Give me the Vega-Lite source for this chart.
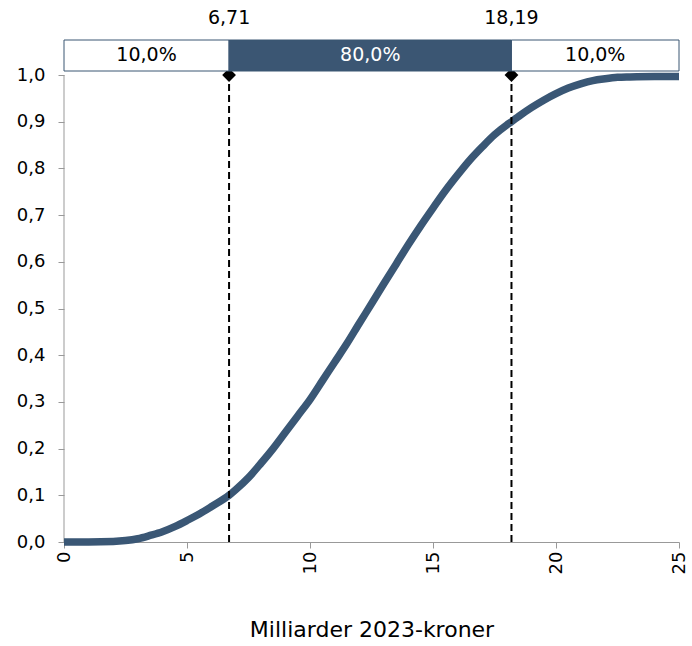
{
  "$schema": "https://vega.github.io/schema/vega-lite/v6.json",
  "autosize": {"type": "none"},
  "width": 615,
  "height": 502,
  "padding": {"left": 64, "top": 40, "right": 13, "bottom": 104},
  "config": {"font": "DejaVu Sans", "view": {"stroke": null}},
  "datasets": {
    "curve": [
      {"x": 0, "p": 0}, {"x": 1, "p": 0}, {"x": 2, "p": 0.001}, {"x": 2.5, "p": 0.003},
      {"x": 3, "p": 0.007}, {"x": 3.5, "p": 0.014}, {"x": 4, "p": 0.022}, {"x": 4.5, "p": 0.033},
      {"x": 5, "p": 0.046}, {"x": 5.5, "p": 0.06}, {"x": 6, "p": 0.076}, {"x": 6.71, "p": 0.1},
      {"x": 7, "p": 0.113}, {"x": 7.5, "p": 0.138}, {"x": 8, "p": 0.168}, {"x": 8.5, "p": 0.2},
      {"x": 9, "p": 0.235}, {"x": 9.5, "p": 0.27}, {"x": 10, "p": 0.305}, {"x": 10.5, "p": 0.345},
      {"x": 11, "p": 0.385}, {"x": 11.5, "p": 0.425}, {"x": 12, "p": 0.468}, {"x": 12.5, "p": 0.51},
      {"x": 13, "p": 0.553}, {"x": 13.5, "p": 0.595}, {"x": 14, "p": 0.637}, {"x": 14.5, "p": 0.677},
      {"x": 15, "p": 0.715}, {"x": 15.5, "p": 0.752}, {"x": 16, "p": 0.786}, {"x": 16.5, "p": 0.818},
      {"x": 17, "p": 0.846}, {"x": 17.5, "p": 0.872}, {"x": 18, "p": 0.893}, {"x": 18.19, "p": 0.9},
      {"x": 18.5, "p": 0.912}, {"x": 19, "p": 0.93}, {"x": 19.5, "p": 0.946}, {"x": 20, "p": 0.96},
      {"x": 20.5, "p": 0.972}, {"x": 21, "p": 0.981}, {"x": 21.5, "p": 0.988}, {"x": 22, "p": 0.992},
      {"x": 22.5, "p": 0.995}, {"x": 23, "p": 0.996}, {"x": 24, "p": 0.997}, {"x": 25, "p": 0.997}
    ],
    "band": [
      {"x": 0, "x2": 6.71, "share": "10,0%", "part": "low"},
      {"x": 6.71, "x2": 18.19, "share": "80,0%", "part": "mid"},
      {"x": 18.19, "x2": 25, "share": "10,0%", "part": "high"}
    ],
    "cuts": [
      {"x": 6.71, "label": "6,71"},
      {"x": 18.19, "label": "18,19"}
    ],
    "yaxis": [{"x": 0, "y": 0, "y2": 1}]
  },
  "layer": [
    {
      "data": {"name": "yaxis"},
      "mark": {"type": "rule", "color": "#999999", "strokeWidth": 1},
      "encoding": {
        "x": {"field": "x", "type": "quantitative", "scale": {"domain": [0, 25], "nice": false}},
        "y": {"field": "y", "type": "quantitative", "scale": {"domain": [0, 1.075], "nice": false}},
        "y2": {"field": "y2"}
      }
    },
    {
      "data": {"name": "curve"},
      "mark": {"type": "line", "color": "#3A5775", "strokeWidth": 7.5, "interpolate": "monotone"},
      "encoding": {
        "x": {
          "field": "x", "type": "quantitative", "title": "Milliarder 2023-kroner",
          "axis": {
            "values": [0, 5, 10, 15, 20, 25], "labelAngle": 270, "labelAlign": "right", "labelBaseline": "middle",
            "labelFontSize": 18, "labelColor": "#000000", "domainColor": "#999999", "tickColor": "#999999",
            "tickSize": 6, "labelPadding": 3, "grid": false, "titleFontSize": 22, "titleFontWeight": "normal",
            "titleColor": "#000000", "titlePadding": 46
          }
        },
        "y": {
          "field": "p", "type": "quantitative", "title": null,
          "axis": {
            "values": [0, 0.1, 0.2, 0.3, 0.4, 0.5, 0.6, 0.7, 0.8, 0.9, 1.0],
            "labelExpr": "replace(format(datum.value, '.1f'), '.', ',')",
            "labelFontSize": 18, "labelColor": "#000000", "domain": false, "tickColor": "#999999",
            "tickSize": 6, "labelPadding": 13, "grid": false
          }
        }
      }
    },
    {
      "data": {"name": "cuts"},
      "mark": {"type": "rule", "color": "#000000", "strokeWidth": 2, "strokeDash": [7, 4]},
      "encoding": {
        "x": {"field": "x", "type": "quantitative"},
        "y": {"datum": 0},
        "y2": {"datum": 1}
      }
    },
    {
      "data": {"name": "cuts"},
      "mark": {"type": "point", "shape": "diamond", "filled": true, "color": "#000000", "size": 190, "opacity": 1},
      "encoding": {
        "x": {"field": "x", "type": "quantitative"},
        "y": {"datum": 1.0}
      }
    },
    {
      "data": {"name": "band"},
      "mark": {"type": "rect", "stroke": "#3B5673", "strokeWidth": 1},
      "encoding": {
        "x": {"field": "x", "type": "quantitative"},
        "x2": {"field": "x2"},
        "y": {"datum": 1.0086},
        "y2": {"datum": 1.075},
        "fill": {"field": "part", "type": "nominal", "scale": {"domain": ["low", "mid", "high"], "range": ["#FFFFFF", "#3B5673", "#FFFFFF"]}, "legend": null}
      }
    },
    {
      "data": {"name": "band"},
      "transform": [{"calculate": "(datum.x + datum.x2) / 2", "as": "xm"}],
      "mark": {"type": "text", "fontSize": 19, "baseline": "middle", "align": "center"},
      "encoding": {
        "x": {"field": "xm", "type": "quantitative"},
        "y": {"datum": 1.042},
        "text": {"field": "share"},
        "color": {"field": "part", "type": "nominal", "scale": {"domain": ["low", "mid", "high"], "range": ["#000000", "#FFFFFF", "#000000"]}, "legend": null}
      }
    },
    {
      "data": {"name": "cuts"},
      "mark": {"type": "text", "fontSize": 19, "baseline": "middle", "align": "center", "color": "#000000"},
      "encoding": {
        "x": {"field": "x", "type": "quantitative"},
        "y": {"datum": 1.122},
        "text": {"field": "label"}
      }
    }
  ]
}
